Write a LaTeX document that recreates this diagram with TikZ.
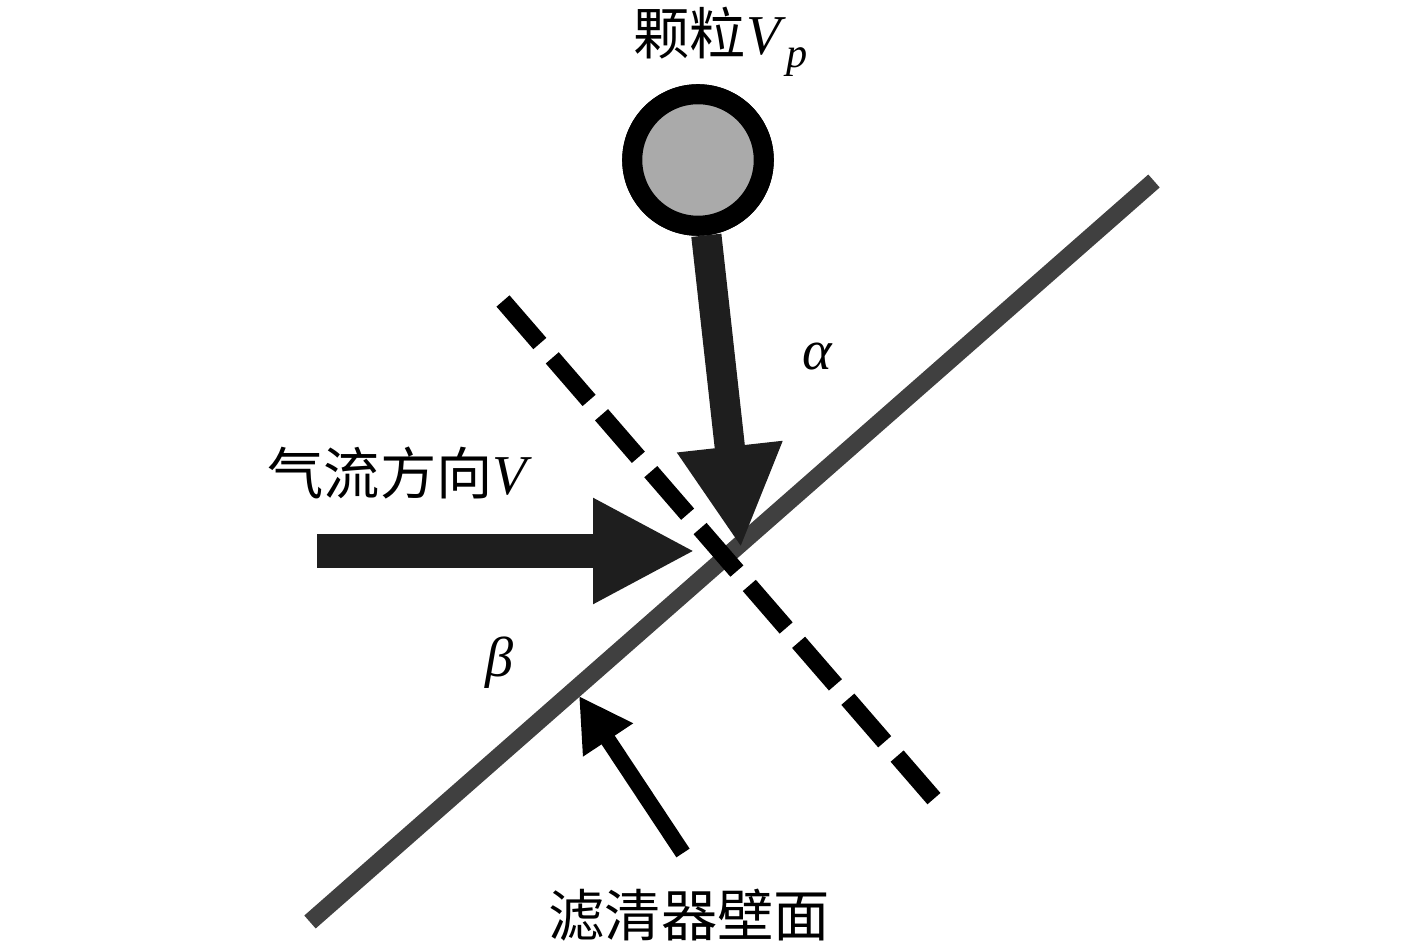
\documentclass[tikz,border=0pt]{standalone}
\usepackage{fontspec}
\setmainfont{Liberation Serif}
\newfontfamily\cjk{Noto Sans CJK SC}
\definecolor{WallGray}{RGB}{64,64,64}
\definecolor{ShaftBlack}{RGB}{30,30,30}
\definecolor{GrainFill}{RGB}{170,170,170}
\usetikzlibrary{arrows.meta}

\tikzset{
  cntext/.style={font=\fontsize{16}{19}\selectfont, inner sep=0pt},
  grain/.style={circle, draw=black, line width=5.7pt, fill=GrainFill,
                minimum size=37.4pt, inner sep=0pt},
  bigarrow/.style={ShaftBlack, -{Triangle[length=29pt, width=28pt]}},
  wallline/.style={WallGray, line width=4.9pt},
  normalline/.style={black, line width=4.9pt, dash pattern=on 16pt off 5.4pt}
}

\begin{document}
\begin{tikzpicture}[x=0.01cm, y=-0.01cm]

  % Page frame
  \fill[white] (0,0) rectangle (1417,949);
  \useasboundingbox (0,0) rectangle (1417,949);

  % Filter wall
  \coordinate (wallA) at (310,922);
  \coordinate (wallB) at (1154,181);
  \draw[wallline] (wallA) -- (wallB);

  % Normal to the wall
  \coordinate (normA) at (503,301);
  \coordinate (normB) at (936,801);
  \draw[normalline] (normA) -- (normB);

  % Particle
  \node[grain] (grain) at (698,160) {};
  \node[cntext, anchor=base west] (grainlabel) at (633,55)
        {{\cjk 颗粒}\textit{V}\raisebox{-3.5pt}{\fontsize{12}{12}\selectfont\textit{p}}};

  % Particle path
  \coordinate (grainhit) at (741,548);
  \draw[bigarrow, line width=8.6pt]
        (grain) -- (grainhit);
  \node[grain] at (grain) {};

  % Airflow
  \coordinate (flowtail) at (317,551);
  \coordinate (flowhit) at (695,551);
  \draw[bigarrow, line width=9.8pt]
        (flowtail) -- (flowhit);
  \node[cntext, anchor=base west] (flowlabel) at (267,495)
        {{\cjk 气流方向}\textit{V}};

  % Angles
  \node[cntext] (alpha) at (818,357) {\textit{α}};
  \node[cntext] (beta) at (500,663) {\textit{β}};

  % Wall pointer
  \coordinate (walltail) at (683,853);
  \coordinate (walltip) at (579,696);
  \draw[black, line width=4.5pt, -{Triangle[length=15pt, width=16pt]}]
        (walltail) -- (walltip);
  \node[cntext, anchor=base west] (walllabel) at (548,937)
        {\cjk 滤清器壁面};

\end{tikzpicture}
\end{document}
